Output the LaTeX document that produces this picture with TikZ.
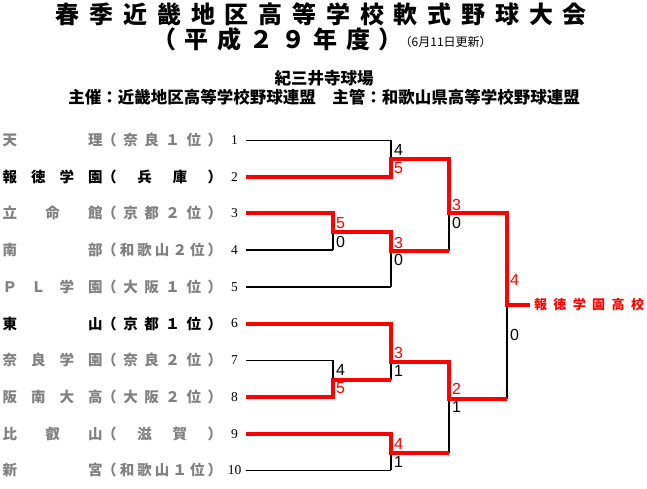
\documentclass[tikz,border=0pt]{standalone}
\usepackage{fontspec}
\usepackage{xcolor}
\usepackage{tikz}

\newfontfamily\jpfont{Noto Sans CJK JP}
\newfontfamily\scorefont{Liberation Sans}
\newfontfamily\numfont{Liberation Serif}
\definecolor{lostgray}{HTML}{808080}

\newcommand\spread[2]{\makebox[#1][s]{\foreach \c [count=\i] in {#2}{\ifnum\i>1 \hfill\fi\c}}}

\tikzset{
  school/.style={anchor=west, inner sep=0pt, font=\jpfont\bfseries\fontsize{14.5}{14.5}\selectfont},
  lost/.style={school, text=lostgray},
  won/.style={school, text=black},
  num/.style={inner sep=0pt, font=\numfont\fontsize{13.5}{13.5}\selectfont},
  score/.style={anchor=west, inner sep=0pt, font=\scorefont\fontsize{16}{16}\selectfont},
  wscore/.style={score, text=red},
  title/.style={inner sep=0pt, font=\jpfont\bfseries\fontsize{24}{24}\selectfont},
  head/.style={inner sep=0pt, font=\jpfont\bfseries\fontsize{16.5}{16.5}\selectfont},
  champ/.style={anchor=west, inner xsep=4pt, inner ysep=0pt, outer sep=0pt, text=red,
    font=\jpfont\bfseries\fontsize{13}{13}\selectfont},
  faint/.style={line width=1pt},
  lose/.style={line width=2pt},
  win/.style={line width=4pt, red},
}

\newcommand\team[4]{%
  \node[#4] (name#1) at (2.5,{140+36.7*(#1-1)}) {\spread{100pt}{#2}};
  \node[#4] (pref#1) at (102,{140+36.7*(#1-1)}) {\spread{120pt}{#3}};
  \node[num] (n#1) at (234.5,{140+36.7*(#1-1)}) {#1};
  \coordinate (t#1) at (246,{140+36.7*(#1-1)});
}

\begin{document}
\begin{tikzpicture}[x=1pt,y=-1pt]
\useasboundingbox (0,0) rectangle (647,488);

\node[title] (title) at (321.4,14) {\spread{531pt}{春,季,近,畿,地,区,高,等,学,校,軟,式,野,球,大,会}};
\node[title] (year) at (277.5,39) {\spread{249.4pt}{（,平,成,２,９,年,度,）}};
\node[anchor=west, inner sep=0pt, font=\jpfont\fontsize{12}{12}\selectfont] (update) at (399.5,42) {（6月11日更新）};
\node[head] (venue) at (324,78) {紀三井寺球場};
\node[head] (host) at (324,97) {主催：近畿地区高等学校野球連盟　主管：和歌山県高等学校野球連盟};

\team{1}{天,理}{（,奈,良,１,位,）}{lost}
\team{2}{報,徳,学,園}{（,兵,庫,）}{won}
\team{3}{立,命,館}{（,京,都,２,位,）}{lost}
\team{4}{南,部}{（,和,歌,山,２,位,）}{lost}
\team{5}{Ｐ,Ｌ,学,園}{（,大,阪,１,位,）}{lost}
\team{6}{東,山}{（,京,都,１,位,）}{won}
\team{7}{奈,良,学,園}{（,奈,良,２,位,）}{lost}
\team{8}{阪,南,大,高}{（,大,阪,２,位,）}{lost}
\team{9}{比,叡,山}{（,滋,賀,）}{lost}
\team{10}{新,宮}{（,和,歌,山,１,位,）}{lost}

\coordinate (mA) at (391,158.5);
\coordinate (mB) at (333,231.8);
\coordinate (mC) at (391,250.7);
\coordinate (mD) at (449,213);
\coordinate (mE) at (333,380);
\coordinate (mF) at (391,362);
\coordinate (mG) at (391,452.7);
\coordinate (mH) at (449,398.7);
\coordinate (fin) at (507,305);

\node[champ] (champ) at (530,305) {\spread{110pt}{報,徳,学,園,高,校}};

\draw[faint] (t1) -- (t1 -| mA);
\draw[lose] (t4) -- (t4 -| mB);
\draw[lose] (t5) -- (t5 -| mC);
\draw[faint] (t7) -- (t7 -| mE);
\draw[faint] (t10) -- (t10 -| mG);
\draw[lose] (t1 -| mA) -- (t2 -| mA);
\draw[lose] (t3 -| mB) -- (t4 -| mB);
\draw[lose] (mB -| mC) -- (t5 -| mC);
\draw[lose] (mA -| mD) -- (mC -| mD);
\draw[lose] (t7 -| mE) -- (t8 -| mE);
\draw[lose] (t6 -| mF) -- (mE -| mF);
\draw[lose] (t9 -| mG) -- (t10 -| mG);
\draw[lose] (mF -| mH) -- (mG -| mH);
\draw[lose] (mD -| fin) -- (mH -| fin);

\draw[win] (t2) -| (mA) -| (mD) -| (fin) -- (champ.west);
\draw[win] (t3) -| (mB) -| (mC) -- (mC -| mD);
\draw[win] (t6) -| (mF) -| (mH) -- (mH -| fin);
\draw[win] (t8) -| (mE) -- (mE -| mF);
\draw[win] (t9) -| (mG) -- (mG -| mH);

\node[score] (sA1) at (394,150) {4};
\node[wscore] (sA2) at (394,168) {5};
\node[wscore] (sB1) at (336,223) {5};
\node[score] (sB2) at (336,241.7) {0};
\node[wscore] (sC1) at (394,242.7) {3};
\node[score] (sC2) at (394,260) {0};
\node[wscore] (sD1) at (452,205) {3};
\node[score] (sD2) at (452,222.7) {0};
\node[wscore] (sF1) at (510,280) {4};
\node[score] (sF2) at (510,335) {0};
\node[score] (sE1) at (336,370) {4};
\node[wscore] (sE2) at (336,388) {5};
\node[wscore] (sG1) at (394,352.7) {3};
\node[score] (sG2) at (394,370.7) {1};
\node[wscore] (sH1) at (394,444) {4};
\node[score] (sH2) at (394,462) {1};
\node[wscore] (sI1) at (452,389.3) {2};
\node[score] (sI2) at (452,407.3) {1};
\end{tikzpicture}
\end{document}
